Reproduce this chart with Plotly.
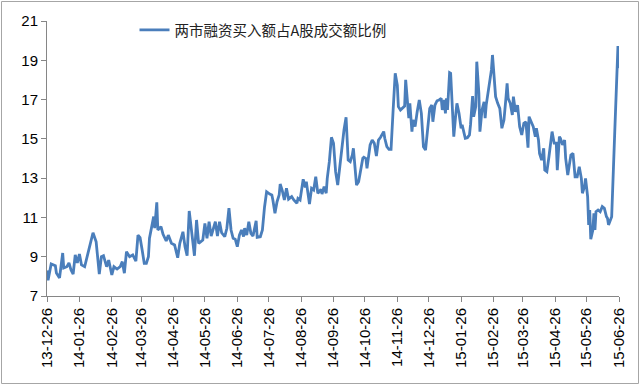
import pandas as pd
import plotly.graph_objects as go

# Series: ratio of margin-buy turnover to A-share turnover (%)
start_date = "2013-12-26"
days_since_start = [
    0, 1, 4, 8, 9, 12, 15, 16, 19, 21, 23, 25, 27, 29, 31, 33, 36, 44, 47, 49,
    50, 52, 54, 57, 59, 62, 64, 67, 70, 72, 74, 76, 77, 79, 82, 85, 87, 89, 91, 93,
    95, 97, 98, 100, 102, 103, 105, 106, 109, 111, 114, 116, 119, 122, 125, 127, 130, 132, 134, 136,
    138, 141, 143, 145, 149, 150, 151, 153, 155, 157, 161, 163, 165, 167, 170, 172, 174, 176, 178, 180,
    182, 184, 186, 188, 189, 191, 193, 195, 197, 200, 201, 204, 206, 208, 210, 213, 215, 216, 218, 220,
    222, 223, 225, 227, 229, 231, 234, 236, 239, 240, 242, 245, 247, 248, 251, 253, 255, 257, 259, 262,
    263, 265, 267, 268, 270, 272, 274, 276, 278, 280, 282, 284, 286, 288, 290, 292, 293, 295, 296, 298,
    300, 302, 303, 305, 306, 309, 311, 313, 315, 317, 319, 322, 323, 325, 327, 329, 331, 332, 333, 335,
    336, 338, 340, 342, 343, 344, 346, 347, 349, 350, 352, 354, 356, 358, 359, 360, 362, 364, 366, 368,
    369, 371, 373, 375, 377, 378, 380, 381, 382, 383, 385, 386, 387, 389, 391, 392, 394, 396, 397, 400,
    402, 404, 405, 407, 408, 410, 411, 413, 414, 416, 418, 419, 420, 423, 425, 426, 427, 429, 431, 433,
    435, 437, 439, 440, 441, 443, 445, 446, 448, 450, 452, 454, 456, 458, 460, 461, 463, 465, 467, 468,
    470, 471, 473, 475, 476, 478, 480, 482, 483, 485, 487, 488, 490, 491, 493, 495, 496, 498, 500, 501,
    503, 505, 507, 509, 511, 512, 514, 515, 517, 518, 519, 520, 522, 523, 524, 525, 527, 529, 531, 533,
    535, 536, 537, 539, 540, 543, 545, 546, 547,
]
ratio_values = [
    8.30, 7.80, 8.63, 8.54, 8.17, 7.92, 9.19, 8.43, 8.49, 8.68, 8.32, 8.12, 9.09, 8.68, 9.14, 8.58, 8.49, 10.22, 9.76, 8.75,
    8.12, 9.00, 9.05, 8.49, 8.83, 8.07, 8.49, 8.37, 8.49, 8.75, 8.16, 9.26, 9.17, 9.00, 9.09, 8.78, 10.10, 9.97, 9.34, 8.66,
    8.66, 9.00, 9.94, 10.45, 11.04, 10.45, 11.77, 10.36, 10.53, 10.14, 9.80, 10.10, 9.68, 9.60, 8.95, 9.68, 10.27, 9.51, 9.05, 11.33,
    10.45, 9.05, 10.87, 9.68, 9.85, 10.31, 10.70, 9.94, 10.78, 10.05, 10.78, 10.05, 10.78, 10.22, 10.02, 10.45, 11.47, 10.36, 9.94, 9.89,
    9.51, 10.10, 10.36, 10.02, 10.45, 10.10, 10.78, 10.19, 10.05, 10.83, 9.99, 10.02, 10.36, 11.52, 12.31, 12.19, 12.14, 11.89, 11.21, 11.80,
    12.14, 12.70, 12.36, 11.89, 12.48, 11.93, 12.06, 11.89, 11.72, 11.97, 11.89, 12.94, 12.53, 12.82, 11.68, 12.48, 12.40, 13.07, 12.23, 12.43,
    12.19, 12.57, 12.23, 12.99, 13.84, 15.08, 14.78, 13.33, 12.65, 13.58, 14.60, 15.45, 16.10, 13.92, 13.84, 14.18, 14.52, 13.33, 12.65, 12.82,
    13.50, 14.01, 14.06, 14.00, 13.50, 14.69, 14.94, 14.78, 14.13, 14.94, 15.08, 15.37, 15.03, 14.60, 14.47, 14.47, 16.47, 17.66, 18.34, 17.74,
    16.64, 16.47, 16.55, 16.67, 18.00, 17.15, 16.05, 16.81, 15.37, 15.96, 15.62, 16.38, 16.98, 16.30, 15.28, 14.60, 14.43, 15.62, 16.55, 16.72,
    15.87, 16.72, 16.94, 16.98, 17.06, 16.47, 16.98, 16.30, 17.06, 16.47, 18.37, 18.34, 17.32, 15.11, 16.30, 16.81, 16.30, 15.54, 15.71, 15.03,
    15.06, 15.20, 15.71, 17.18, 16.13, 16.64, 18.93, 17.32, 15.37, 16.47, 16.89, 16.05, 16.72, 17.66, 18.51, 19.27, 18.42, 17.15, 16.81, 16.55,
    15.54, 15.96, 17.15, 17.83, 17.06, 16.81, 16.22, 17.15, 16.38, 16.72, 15.62, 15.20, 15.79, 15.87, 14.55, 16.13, 15.87, 15.62, 15.11, 15.54,
    14.94, 14.26, 13.92, 14.52, 13.41, 13.33, 14.09, 14.94, 15.37, 14.78, 14.78, 13.41, 15.11, 15.03, 14.69, 14.94, 14.01, 13.16, 13.75, 14.18,
    14.26, 13.07, 13.07, 13.58, 12.99, 12.23, 12.57, 12.99, 12.06, 10.62, 11.38, 9.89, 10.36, 11.21, 10.36, 11.29, 11.38, 11.29, 11.55, 11.46,
    11.04, 10.96, 10.62, 10.87, 11.04, 15.45, 18.85, 19.73, 18.59,
]
series_name = "两市融资买入额占A股成交额比例"
tick_dates = [
    "2013-12-26", "2014-01-26", "2014-02-26", "2014-03-26", "2014-04-26", "2014-05-26",
    "2014-06-26", "2014-07-26", "2014-08-26", "2014-09-26", "2014-10-26", "2014-11-26",
    "2014-12-26", "2015-01-26", "2015-02-26", "2015-03-26", "2015-04-26", "2015-05-26",
    "2015-06-26",
]
y_ticks = [7, 9, 11, 13, 15, 17, 19, 21]

dates = pd.Timestamp(start_date) + pd.to_timedelta(days_since_start, unit="D")
tick_labels = [pd.Timestamp(d).strftime("%y-%m-%d") for d in tick_dates]

fig = go.Figure()
fig.add_trace(go.Scatter(
    x=dates, y=ratio_values, mode="lines", name=series_name,
    line=dict(color="#4a7ebb", width=2.8),
))

W, H = 640, 385
ml, mr, mt, mb = 47, 21, 21, 89
pw, ph = W - ml - mr, H - mt - mb

fig.update_layout(
    width=W, height=H,
    margin=dict(l=ml, r=mr, t=mt, b=mb, pad=0),
    paper_bgcolor="white", plot_bgcolor="white",
    showlegend=True,
    legend=dict(
        orientation="h", x=(263 - ml) / pw, xanchor="center",
        y=1 - (30 - mt) / ph, yanchor="middle",
        font=dict(family="Noto Sans CJK SC", size=14.5, color="#222222"),
        bgcolor="rgba(0,0,0,0)", itemwidth=30,
    ),
    xaxis=dict(
        type="date", range=[tick_dates[0], tick_dates[-1]],
        tickmode="array", tickvals=tick_dates, ticktext=tick_labels,
        tickangle=-90, ticks="outside", ticklen=5, tickcolor="#868686",
        showline=True, linecolor="#868686", linewidth=1,
        showgrid=False, zeroline=False,
        tickfont=dict(family="Liberation Sans", size=15, color="black"),
    ),
    yaxis=dict(
        range=[7, 21], tickmode="array", tickvals=y_ticks,
        ticks="outside", ticklen=5, tickcolor="#868686",
        showline=True, linecolor="#868686", linewidth=1,
        showgrid=False, zeroline=False,
        tickfont=dict(family="Liberation Sans", size=15, color="black"),
    ),
    shapes=[dict(
        type="rect", xref="paper", yref="paper",
        x0=-(ml - 1.5) / pw, x1=1 + (mr - 1.5) / pw,
        y0=-(mb - 1.5) / ph, y1=1 + (mt - 1.5) / ph,
        line=dict(color="#a6a6a6", width=1), fillcolor="rgba(0,0,0,0)",
        layer="below",
    )],
)

fig.write_html(
    "out.html",
    config={"displayModeBar": False},
    post_script="document.body.style.margin='0';document.body.style.overflow='hidden';",
)
